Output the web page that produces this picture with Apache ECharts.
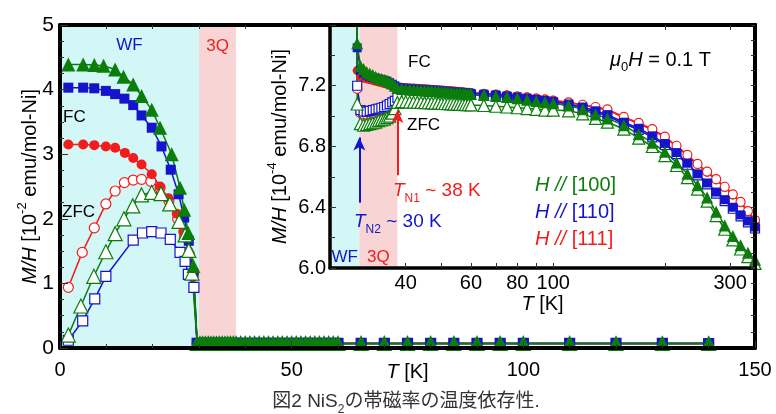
<!DOCTYPE html>
<html><head><meta charset="utf-8">
<script src="https://cdn.jsdelivr.net/npm/echarts@6/dist/echarts.min.js"></script>
<style>html,body{margin:0;padding:0;background:#fff}#c{width:776px;height:414px}</style>
</head><body><div id="c"></div>
<script>
// ---- Low-temperature data (main panel), M/H in 10^-2 emu/mol-Ni ----
const T_FC100_LOW  = [1.8, 5.0, 7.4, 9.4, 11.9, 13.7, 15.8, 17.6, 19.8, 21.6, 24.1, 25.9, 26.8, 27.7, 28.8];
const FC100_LOW    = [4.39, 4.39, 4.38, 4.37, 4.31, 4.20, 4.08, 3.90, 3.69, 3.41, 3.00, 2.48, 2.14, 1.78, 1.27];
const T_FC110_LOW  = [1.8, 5.0, 7.4, 9.9, 11.9, 13.9, 15.8, 17.6, 19.8, 21.9, 23.9, 25.6, 26.8, 27.8, 28.8];
const FC110_LOW    = [4.03, 4.03, 4.02, 3.98, 3.93, 3.86, 3.76, 3.60, 3.41, 3.12, 2.76, 2.38, 2.02, 1.66, 1.15];
const T_FC111_LOW  = [1.8, 5.0, 7.4, 9.9, 11.9, 14.0, 15.8, 17.6, 19.8, 21.6, 23.4, 25.2, 26.6, 27.7, 28.7];
const FC111_LOW    = [3.15, 3.15, 3.14, 3.12, 3.10, 3.02, 2.94, 2.84, 2.69, 2.50, 2.32, 2.08, 1.80, 1.50, 1.10];
const T_ZFC100_LOW = [1.8, 4.5, 7.3, 9.9, 11.9, 13.8, 15.7, 17.6, 19.8, 21.8, 23.7, 25.7, 27.0, 27.8, 28.5];
const ZFC100_LOW   = [0.20, 0.65, 1.11, 1.49, 1.77, 2.00, 2.20, 2.37, 2.41, 2.39, 2.23, 1.96, 1.75, 1.51, 1.16];
const T_ZFC110_LOW = [1.8, 4.9, 7.5, 9.9, 15.8, 17.8, 19.8, 21.8, 23.8, 25.9, 27.0, 27.7, 28.9];
const ZFC110_LOW   = [0.12, 0.42, 0.76, 1.11, 1.67, 1.78, 1.80, 1.78, 1.68, 1.48, 1.34, 1.14, 0.94];
const T_ZFC111_LOW = [1.8, 4.8, 7.4, 9.9, 11.9, 13.9, 15.8, 17.6, 19.6, 21.6, 23.5, 25.4, 26.9, 27.9, 28.8];
const ZFC111_LOW   = [0.94, 1.48, 1.86, 2.23, 2.43, 2.56, 2.60, 2.61, 2.58, 2.48, 2.28, 2.00, 1.72, 1.45, 1.15];

// ---- Higher-temperature data (inset), M/H in 10^-4 emu/mol-Ni ----
const T_HIGH = [29.6, 30.2, 30.8, 31.4, 32.0, 32.6, 33.2, 33.8, 34.4, 35.0, 35.6, 36.2, 36.8, 37.4, 38.0,
  39, 40, 41, 42, 43, 44, 45, 46, 47, 48, 49, 50, 51, 52, 53, 54, 55, 56, 57, 58, 59, 60,
  65, 70, 75, 80, 85, 90, 95, 100, 110, 120, 130, 140,
  155, 170, 185, 200, 215, 230, 245, 260, 275, 290, 305, 320, 335, 350];
const FC100_HIGH = [7.48, 7.33, 7.31, 7.29, 7.28, 7.27, 7.26, 7.25, 7.245, 7.24, 7.235, 7.225, 7.215, 7.20, 7.185,
  7.18, 7.178, 7.176, 7.175, 7.173, 7.171, 7.17, 7.168, 7.167, 7.165, 7.163, 7.162, 7.16, 7.158, 7.157, 7.155, 7.153, 7.152, 7.15, 7.149, 7.147, 7.146,
  7.14, 7.133, 7.126, 7.117, 7.108, 7.10, 7.092, 7.085, 7.07, 7.045, 7.01, 6.985,
  6.94, 6.88, 6.825, 6.765, 6.695, 6.62, 6.545, 6.465, 6.37, 6.28, 6.21, 6.15, 6.10, 6.055];
const FC110_HIGH = [7.45, 7.30, 7.28, 7.27, 7.26, 7.255, 7.25, 7.245, 7.24, 7.235, 7.23, 7.22, 7.21, 7.20, 7.19,
  7.185, 7.183, 7.181, 7.18, 7.178, 7.176, 7.175, 7.173, 7.172, 7.17, 7.168, 7.167, 7.165, 7.163, 7.162, 7.16, 7.158, 7.157, 7.155, 7.153, 7.152, 7.15,
  7.145, 7.14, 7.133, 7.126, 7.118, 7.11, 7.103, 7.096, 7.08, 7.06, 7.035, 7.01,
  6.96, 6.92, 6.87, 6.82, 6.76, 6.69, 6.62, 6.56, 6.50, 6.45, 6.40, 6.35, 6.31, 6.27];
const FC111_HIGH = [7.30, 7.26, 7.25, 7.245, 7.24, 7.235, 7.23, 7.225, 7.22, 7.215, 7.21, 7.205, 7.20, 7.195, 7.19,
  7.19, 7.188, 7.186, 7.185, 7.183, 7.181, 7.18, 7.178, 7.177, 7.175, 7.173, 7.172, 7.17, 7.168, 7.167, 7.165, 7.163, 7.162, 7.16, 7.158, 7.157, 7.155,
  7.15, 7.145, 7.14, 7.133, 7.127, 7.12, 7.113, 7.106, 7.09, 7.075, 7.055, 7.04,
  6.99, 6.95, 6.91, 6.86, 6.80, 6.74, 6.68, 6.63, 6.58, 6.53, 6.48, 6.43, 6.37, 6.31];
const ZFC100_HIGH = [7.08, 6.95, 6.94, 6.945, 6.95, 6.955, 6.96, 6.97, 6.975, 6.98, 6.99, 7.00, 7.02, 7.05, 7.09,
  7.095, 7.094, 7.093, 7.092, 7.091, 7.09, 7.089, 7.088, 7.087, 7.086, 7.085, 7.084, 7.083, 7.082, 7.081, 7.08, 7.079, 7.078, 7.077, 7.076, 7.075, 7.074,
  7.07, 7.065, 7.06, 7.055, 7.05, 7.045, 7.04, 7.04, 7.035, 7.015, 6.985, 6.96,
  6.915, 6.855, 6.80, 6.74, 6.675, 6.595, 6.52, 6.44, 6.345, 6.255, 6.185, 6.125, 6.075, 6.03];
const ZFC110_HIGH = [7.20, 7.04, 7.03, 7.03, 7.035, 7.04, 7.045, 7.05, 7.055, 7.06, 7.07, 7.08, 7.09, 7.10, 7.12,
  7.175, 7.173, 7.171, 7.17, 7.168, 7.166, 7.165, 7.163, 7.162, 7.16, 7.158, 7.157, 7.155, 7.153, 7.152, 7.15, 7.148, 7.147, 7.145, 7.143, 7.142, 7.14,
  7.135, 7.13, 7.123, 7.116, 7.108, 7.10, 7.093, 7.086, 7.07, 7.05, 7.025, 7.0,
  6.95, 6.91, 6.86, 6.81, 6.75, 6.68, 6.61, 6.55, 6.49, 6.44, 6.39, 6.34, 6.30, 6.26];
const ZFC111_HIGH = [7.18, 7.02, 7.01, 7.01, 7.015, 7.02, 7.03, 7.035, 7.04, 7.05, 7.06, 7.07, 7.08, 7.09, 7.11,
  7.185, 7.183, 7.181, 7.18, 7.178, 7.176, 7.175, 7.173, 7.172, 7.17, 7.168, 7.167, 7.165, 7.163, 7.162, 7.16, 7.158, 7.157, 7.155, 7.153, 7.152, 7.15,
  7.145, 7.14, 7.135, 7.128, 7.122, 7.115, 7.108, 7.10, 7.09, 7.075, 7.06, 7.045,
  6.995, 6.955, 6.915, 6.865, 6.805, 6.745, 6.685, 6.635, 6.585, 6.535, 6.485, 6.435, 6.375, 6.315];

// ---- Regions, transitions, ticks ----
const REGION_WF_MAIN = [0, 30];
const REGION_WF_INSET = [25, 30];
const REGION_3Q = [30, 38];
const T_N2 = 30, T_N1 = 38;
const ARROW_N2 = [6.43, 6.86];
const ARROW_N1 = [6.61, 7.04];
const MAIN_TOP_TICKS = [10, 20, 30, 40, 50];
const MAIN_RIGHT_TICKS = [0.25, 0.5, 0.75, 1.0, 1.25];
const INSET_X_TICKS = [40, 50, 60, 70, 80, 90, 100, 200, 300];
const INSET_X_LABELS = [40, 60, 80, 100, 300];

const FONT = "'Liberation Sans', Arial, sans-serif";
const GREEN = '#0b7d0b', BLUE = '#1414cc', RED = '#f21c1c';
const CYAN = '#d3f6f6', PINK = '#f8d4d4';

function pairs(t, v, k) { return t.map((x, i) => [x, +(v[i] * k).toFixed(5)]); }
function mainData(tl, vl, vh) { return pairs(tl, vl, 1).concat(pairs(T_HIGH, vh, 0.01).filter(p => p[0] <= 150)); }
function insetData(tl, vl, vh) { return pairs(tl, vl, 100).concat(pairs(T_HIGH, vh, 1)); }

const S = {
  ZFC111:{tl:T_ZFC111_LOW, vl:ZFC111_LOW, vh:ZFC111_HIGH, c:RED, s:'circle', open:true, sm:10, si:9},
  FC111:{tl:T_FC111_LOW, vl:FC111_LOW, vh:FC111_HIGH, c:RED, s:'circle', open:false, sm:10, si:9},
  ZFC110:{tl:T_ZFC110_LOW, vl:ZFC110_LOW, vh:ZFC110_HIGH, c:BLUE, s:'rect', open:true, sm:10, si:9},
  FC110:{tl:T_FC110_LOW, vl:FC110_LOW, vh:FC110_HIGH, c:BLUE, s:'rect', open:false, sm:10, si:9},
  ZFC100:{tl:T_ZFC100_LOW, vl:ZFC100_LOW, vh:ZFC100_HIGH, c:GREEN, s:'triangle', open:true, sm:14, si:12},
  FC100:{tl:T_FC100_LOW, vl:FC100_LOW, vh:FC100_HIGH, c:GREEN, s:'triangle', open:false, sm:14, si:12}
};
const MAIN_ORDER = ['ZFC111', 'FC111', 'ZFC110', 'FC110', 'ZFC100', 'FC100'];
const INSET_ORDER = ['FC111', 'ZFC111', 'ZFC110', 'FC110', 'ZFC100', 'FC100'];

function mk(name, data, xi, yi, sp, size) {
  return {
    type:'line', name, data, xAxisIndex:xi, yAxisIndex:yi, symbol:sp.s, symbolSize:size,
    showSymbol:true, clip:true, animation:false, emphasis:{disabled:true},
    lineStyle:{color:sp.c, width:1.5},
    itemStyle: sp.open ? {color:'#fff', borderColor:sp.c, borderWidth:1.2} : {color:sp.c, borderColor:sp.c, borderWidth:0}
  };
}

const series = [];
MAIN_ORDER.forEach(k => { const sp = S[k]; series.push(mk(k + '_main', mainData(sp.tl, sp.vl, sp.vh), 0, 0, sp, sp.sm)); });
INSET_ORDER.forEach(k => { const sp = S[k]; series.push(mk(k + '_inset', insetData(sp.tl, sp.vl, sp.vh), 2, 2, sp, sp.si)); });
const byName = n => series.find(s => s.name === n);

const regionLabel = (color, pos, dist) => ({show:true, position:pos, distance:dist, color, fontSize:17, fontFamily:FONT});
byName('ZFC111_main').markArea = {silent:true, data:[
  [{xAxis:REGION_WF_MAIN[0], name:'WF', itemStyle:{color:CYAN}, label:regionLabel(BLUE,'insideTop',12)}, {xAxis:REGION_WF_MAIN[1]}],
  [{xAxis:REGION_3Q[0], name:'3Q', itemStyle:{color:PINK}, label:regionLabel(RED,'insideTop',13)}, {xAxis:REGION_3Q[1]}]
]};
byName('FC111_inset').markArea = {silent:true, data:[
  [{xAxis:REGION_WF_INSET[0], name:'WF', itemStyle:{color:CYAN}, label:regionLabel(BLUE,'insideBottom',2)}, {xAxis:REGION_WF_INSET[1]}],
  [{xAxis:REGION_3Q[0], name:'3Q', itemStyle:{color:PINK}, label:regionLabel(RED,'insideBottom',2)}, {xAxis:REGION_3Q[1]}]
]};
// transition arrows
byName('FC110_inset').markLine = {silent:true, symbol:['none','arrow'], symbolSize:[9,13], label:{show:false},
  lineStyle:{color:BLUE, width:2, type:'solid'},
  data:[[{coord:[T_N2, ARROW_N2[0]]}, {coord:[T_N2, ARROW_N2[1]]}]]};
byName('ZFC111_inset').markLine = {silent:true, symbol:['none','arrow'], symbolSize:[9,13], label:{show:false},
  lineStyle:{color:RED, width:2, type:'solid'},
  data:[[{coord:[T_N1, ARROW_N1[0]]}, {coord:[T_N1, ARROW_N1[1]]}]]};

function rich(size) {
  return {
    i:{fontStyle:'italic', fontSize:size, fontFamily:FONT, lineHeight:size + 8},
    n:{fontSize:size, fontFamily:FONT, lineHeight:size + 8},
    sup:{fontSize:Math.round(size * 0.65), fontFamily:FONT, verticalAlign:'top', lineHeight:Math.round(size * 0.7)},
    sub:{fontSize:Math.round(size * 0.65), fontFamily:FONT, verticalAlign:'bottom', lineHeight:Math.round(size * 0.7)}
  };
}

const AX = '#000';
const tickStyle = {color:'#333', width:1};
function baseAxis(extra) {
  return Object.assign({
    z:5, splitLine:{show:false}, nameMoveOverlap:false,
    axisLine:{show:true, onZero:false, lineStyle:{color:AX, width:4}},
    axisLabel:{color:'#000', fontSize:20, fontFamily:FONT},
    nameTextStyle:{color:'#000', fontSize:20, fontFamily:FONT, lineHeight:28, rich:rich(20)}
  }, extra);
}

const option = {
  animation:false,
  backgroundColor:'#fff',
  textStyle:{fontFamily:FONT},
  grid:[
    {left:60, top:25, width:695, height:323, containLabel:false, outerBoundsMode:'none'},
    {left:330, top:25, width:425, height:243, containLabel:false, outerBoundsMode:'none'}
  ],
  xAxis:[
    baseAxis({gridIndex:0, type:'value', position:'bottom', min:0, max:150, interval:50,
      axisTick:{show:true, inside:true, length:7, lineStyle:tickStyle},
      minorTick:{show:true, splitNumber:5, length:4, lineStyle:tickStyle},
      axisLabel:{color:'#000', fontSize:20, fontFamily:FONT, margin:12},
      name:'{i|T}{n| [K]}', nameLocation:'middle', nameGap:10}),
    baseAxis({gridIndex:0, type:'value', position:'top', min:0, max:150,
      axisTick:{show:true, inside:true, length:4, lineStyle:tickStyle, customValues:MAIN_TOP_TICKS},
      axisLabel:{show:false}}),
    baseAxis({gridIndex:1, type:'log', logBase:10, position:'bottom', min:25, max:350,
      axisLine:{show:true, onZero:false, lineStyle:{color:AX, width:3.5}},
      axisTick:{show:true, inside:true, length:5, lineStyle:tickStyle, customValues:INSET_X_TICKS},
      minorTick:{show:false},
      axisLabel:{color:'#000', fontSize:20, fontFamily:FONT, margin:5, customValues:INSET_X_LABELS, formatter:v => String(Math.round(v))},
      name:'{i|T}{n| [K]}', nameLocation:'middle', nameGap:22}),
    baseAxis({gridIndex:1, type:'log', logBase:10, position:'top', min:25, max:350,
      axisLine:{show:true, onZero:false, lineStyle:{color:AX, width:4}},
      axisTick:{show:true, inside:true, length:5, lineStyle:tickStyle, customValues:INSET_X_TICKS},
      minorTick:{show:false},
      axisLabel:{show:false}})
  ],
  yAxis:[
    baseAxis({gridIndex:0, type:'value', position:'left', min:0, max:5, interval:1,
      axisTick:{show:true, inside:true, length:8, lineStyle:tickStyle},
      minorTick:{show:true, splitNumber:4, length:4, lineStyle:tickStyle},
      axisLabel:{color:'#000', fontSize:21, fontFamily:FONT, margin:6},
      name:'{i|M/H}{n| [10}{sup|-2}{n| emu/mol-Ni]}', nameLocation:'middle', nameGap:16}),
    baseAxis({gridIndex:0, type:'value', position:'right', min:0, max:5,
      axisTick:{show:true, inside:true, length:4, lineStyle:tickStyle, customValues:MAIN_RIGHT_TICKS},
      axisLabel:{show:false}}),
    baseAxis({gridIndex:1, type:'value', position:'left', min:6.0, max:7.6, interval:0.4,
      axisLine:{show:true, onZero:false, lineStyle:{color:AX, width:3.5}},
      axisTick:{show:true, inside:true, length:6, lineStyle:tickStyle},
      minorTick:{show:true, splitNumber:2, length:5, lineStyle:tickStyle},
      axisLabel:{color:'#000', fontSize:20, fontFamily:FONT, margin:4, showMaxLabel:false,
        formatter:v => (v > 7.55 ? '' : v.toFixed(1))},
      name:'{i|M/H}{n| [10}{sup|-4}{n| emu/mol-Ni]}', nameLocation:'middle', nameGap:36}),
    baseAxis({gridIndex:1, type:'value', position:'right', min:6.0, max:7.6, interval:0.1,
      axisTick:{show:true, inside:true, length:4, lineStyle:tickStyle},
      axisLabel:{show:false}})
  ],
  series,
  graphic:[]
};

function txt(x, y, text, color, size, align, ff) {
  const r = rich(size);
  if (ff) Object.keys(r).forEach(k => r[k].fontFamily = ff);
  return {type:'text', x, y, z:100, silent:true,
    style:{text, fill:color, fontSize:size, fontFamily:ff || FONT, align:align || 'left', verticalAlign:'middle', rich:r}};
}
option.graphic = [
  txt(63, 117, 'FC', '#000', 17),
  txt(62, 212, 'ZFC', '#000', 17),
  txt(408, 62, 'FC', '#000', 17),
  txt(407, 125, 'ZFC', '#000', 17),
  txt(393, 191, '{i|T}{sub|N1}{n| ~ 38 K}', RED, 19),
  txt(354, 222, '{i|T}{sub|N2}{n| ~ 30 K}', BLUE, 19),
  txt(610, 60, '{i|μ}{sub|0}{i|H}{n| = 0.1 T}', '#000', 20),
  txt(535, 185, '{i|H //}{n| [100]}', GREEN, 20),
  txt(535, 212, '{i|H //}{n| [110]}', BLUE, 20),
  txt(535, 239, '{i|H //}{n| [111]}', RED, 20),
  txt(406, 402, '{n|図2 NiS}{sub|2}{n|の帯磁率の温度依存性.}', '#333', 19, 'center', "'Liberation Sans','Noto Sans CJK JP', sans-serif")
];

const chart = echarts.init(document.getElementById('c'), null, {renderer:'canvas'});
chart.setOption(option);
</script>
</body></html>
